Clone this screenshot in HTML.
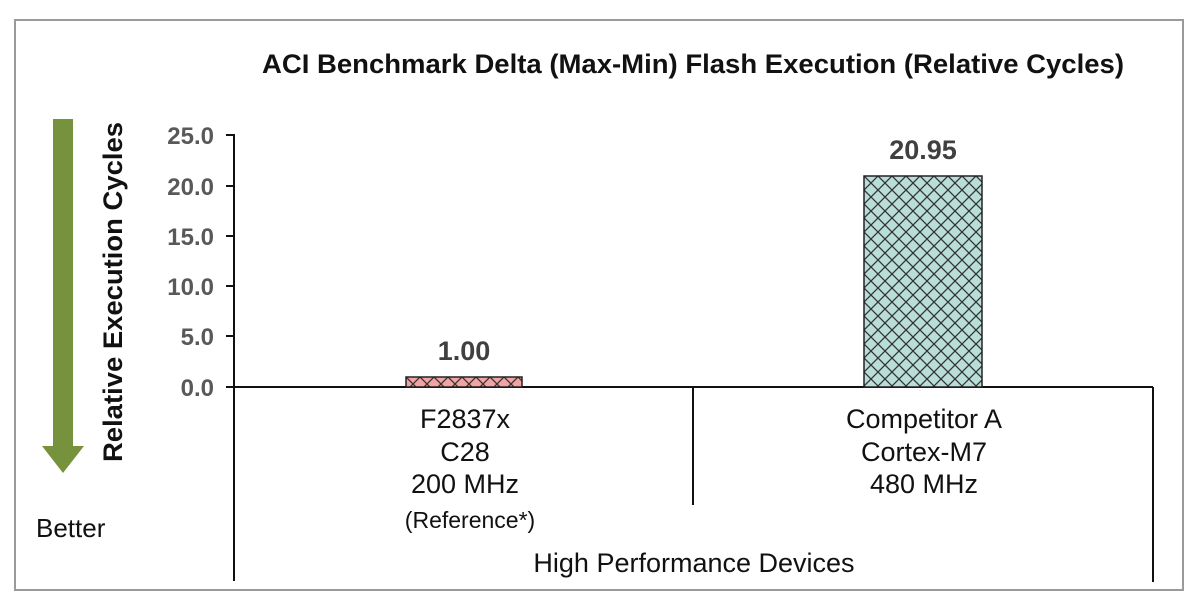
<!DOCTYPE html>
<html><head><style>
body{margin:0;background:#fff;}
svg text{font-family:"Liberation Sans",Arial,sans-serif;}
</style></head><body>
<svg width="1200" height="606" viewBox="0 0 1200 606" xmlns="http://www.w3.org/2000/svg">
<defs>
<pattern id="p1" width="14" height="14" patternUnits="userSpaceOnUse" x="406" y="377">
<rect width="14" height="14" fill="#f2a3a3"/>
<path d="M0 0L14 14M14 0L0 14" stroke="#333" stroke-width="1.3"/>
</pattern>
<pattern id="p2" width="14" height="14" patternUnits="userSpaceOnUse" x="864" y="176">
<rect width="14" height="14" fill="#b9ded9"/>
<path d="M0 0L14 14M14 0L0 14" stroke="#333" stroke-width="1.3"/>
</pattern>
</defs>
<rect x="15" y="20" width="1168" height="570" fill="#fff" stroke="#9a9a9a" stroke-width="2"/>
<text x="693" y="73" font-size="27" font-weight="bold" text-anchor="middle" fill="#111" textLength="862" lengthAdjust="spacingAndGlyphs">ACI Benchmark Delta (Max-Min) Flash Execution (Relative Cycles)</text>
<rect x="53" y="119" width="20" height="328" fill="#76923c"/>
<polygon points="42,446 84,446 63,473" fill="#76923c"/>
<text transform="translate(122,292) rotate(-90)" font-size="27" font-weight="bold" text-anchor="middle" fill="#111" textLength="340" lengthAdjust="spacingAndGlyphs">Relative Execution Cycles</text>
<text x="36" y="537" font-size="26" fill="#111">Better</text>
<g stroke="#111" stroke-width="2">
<line x1="234" y1="134" x2="234" y2="581"/>
<line x1="226" y1="387" x2="1153" y2="387"/>
<line x1="226" y1="135" x2="234" y2="135"/>
<line x1="226" y1="186" x2="234" y2="186"/>
<line x1="226" y1="236" x2="234" y2="236"/>
<line x1="226" y1="286" x2="234" y2="286"/>
<line x1="226" y1="336" x2="234" y2="336"/>
<line x1="693" y1="387" x2="693" y2="505"/>
<line x1="1153" y1="387" x2="1153" y2="582"/>
</g>
<g font-size="24" font-weight="bold" fill="#595959" text-anchor="end">
<text x="214" y="144">25.0</text>
<text x="214" y="195">20.0</text>
<text x="214" y="245">15.0</text>
<text x="214" y="295">10.0</text>
<text x="214" y="345">5.0</text>
<text x="214" y="396">0.0</text>
</g>
<rect x="406" y="377" width="116" height="10" fill="url(#p1)" stroke="#222" stroke-width="1.5"/>
<rect x="864" y="176" width="118" height="211" fill="url(#p2)" stroke="#222" stroke-width="1.5"/>
<g font-size="27" font-weight="bold" fill="#404040" text-anchor="middle">
<text x="464" y="360">1.00</text>
<text x="923" y="159">20.95</text>
</g>
<g font-size="27" fill="#111" text-anchor="middle">
<text x="465" y="428">F2837x</text>
<text x="465" y="461">C28</text>
<text x="465" y="493">200 MHz</text>
<text x="470" y="528" font-size="23">(Reference*)</text>
<text x="924" y="428">Competitor A</text>
<text x="924" y="461">Cortex-M7</text>
<text x="924" y="493">480 MHz</text>
<text x="694" y="572">High Performance Devices</text>
</g>
</svg>
</body></html>
